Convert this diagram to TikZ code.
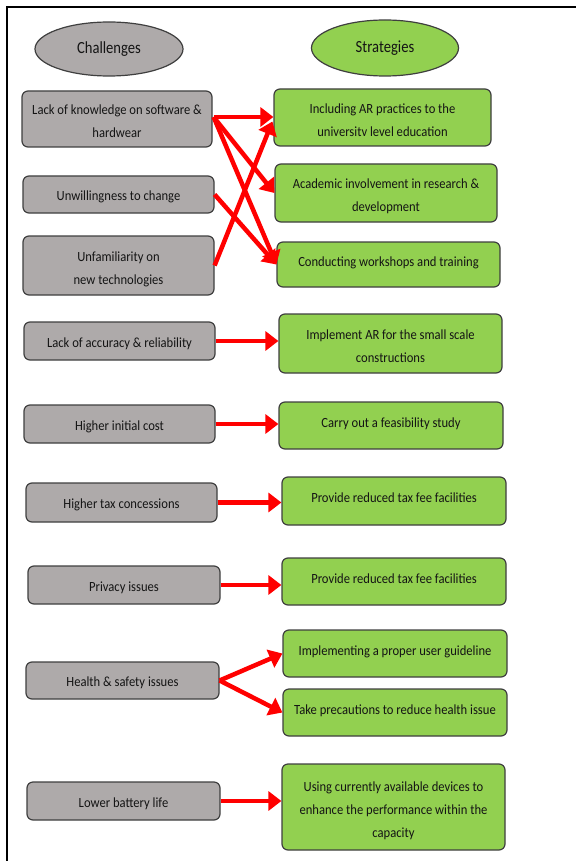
\documentclass[tikz,border=0pt]{standalone}
\usepackage{fontspec}
\setmainfont{Carlito}
\newfontfamily\boxfont[FakeStretch=0.9]{Carlito}
\newfontfamily\headfont[FakeStretch=0.86]{Carlito}
\usetikzlibrary{arrows.meta,shapes.geometric,calc}
\definecolor{cgray}{HTML}{AEAAAA}
\definecolor{cgreen}{HTML}{92D050}
\definecolor{cedge}{HTML}{3F3F3F}
\definecolor{ctext}{HTML}{141414}
\definecolor{cred}{HTML}{FF0000}
\newcommand{\lowtxt}[1]{\raisebox{-2.5pt}[\height][\depth]{\begin{tabular}{@{}c@{}}#1\end{tabular}}}
\begin{document}
\begin{tikzpicture}[x=1pt,y=-1pt,
  box/.style={draw=cedge, line width=1.2pt, rounded corners=6pt, align=center,
    font=\boxfont\fontsize{14}{23}\selectfont, text=ctext, inner sep=0pt},
  lower/.style={execute at begin node={\rule{0pt}{15pt}}},
  raise/.style={execute at end node={\rule[-6.5pt]{0pt}{1pt}}},
  chal/.style={box, fill=cgray, lower},
  chaltwo/.style={box, fill=cgray},
  strat/.style={box, fill=cgreen},
  stratone/.style={strat, raise},
  head/.style={ellipse, draw=cedge, line width=1.2pt, inner sep=0pt,
    font=\headfont\fontsize{17}{18}\selectfont, text=ctext},
  link/.style={draw=cred, line width=4.5pt, -{Triangle[length=13pt,width=19pt]}}]
\useasboundingbox (0,0) rectangle (576,861);
\fill[white] (0,0) rectangle (576,861);
\draw[line width=2pt, black] (7,861) -- (7,7) -- (576,7);

% headers
\node[head, fill=cgray, minimum width=148pt, minimum height=54pt] (hc) at (109,49) {Challenges};
\node[head, fill=cgreen, minimum width=147pt, minimum height=56pt] (hs) at (385,48) {Strategies};

% challenges
\node[chaltwo, minimum width=190pt, minimum height=56pt] (L1) at (117,119) {\lowtxt{Lack of knowledge on software \&\\hardwear}};
\node[chal, minimum width=191pt, minimum height=37pt] (L2) at (118.5,194.5) {Unwillingness to change};
\node[chaltwo, minimum width=191pt, minimum height=59pt] (L3) at (118.5,265.5) {\lowtxt{Unfamiliarity on\\new technologies}};
\node[chal, minimum width=191pt, minimum height=38pt] (L4) at (119.5,341) {Lack of accuracy \& reliability};
\node[chal, minimum width=191pt, minimum height=38pt] (L5) at (119.5,424) {Higher initial cost};
\node[chal, minimum width=191pt, minimum height=39pt] (L6) at (121.5,502.5) {Higher tax concessions};
\node[chal, minimum width=192pt, minimum height=38pt] (L7) at (124,585) {Privacy issues};
\node[chal, minimum width=193pt, minimum height=37pt] (L8) at (122.5,680.5) {Health \& safety issues};
\node[chal, minimum width=193pt, minimum height=38pt] (L9) at (123.5,801) {Lower battery life};

% strategies
\node[strat, minimum width=217pt, minimum height=57pt] (R1) at (382.5,117.5) {\lowtxt{Including AR practices to the\\universitv level education}};
\node[strat, minimum width=222pt, minimum height=58pt] (R2) at (386,193) {\lowtxt{Academic involvement in research \&\\development}};
\node[stratone, minimum width=223pt, minimum height=45pt] (R3) at (388.5,264.5) {Conducting workshops and training};
\node[strat, minimum width=223pt, minimum height=59pt] (R4) at (390.5,343.5) {\lowtxt{Implement AR for the small scale\\constructions}};
\node[stratone, minimum width=224pt, minimum height=47pt] (R5) at (391,425.5) {Carry out a feasibility study};
\node[stratone, minimum width=224pt, minimum height=48pt] (R6) at (394,501) {Provide reduced tax fee facilities};
\node[stratone, minimum width=224pt, minimum height=47pt] (R7) at (394,581.5) {Provide reduced tax fee facilities};
\node[stratone, minimum width=224pt, minimum height=47pt] (R8a) at (395,653.5) {Implementing a proper user guideline};
\node[stratone, minimum width=224pt, minimum height=47pt] (R8b) at (395,712.5) {Take precautions to reduce health issue};
\node[strat, minimum width=223pt, minimum height=86pt] (R9) at (393.5,807) {\lowtxt{Using currently available devices to\\enhance the performance within the\\capacity}};

% connectors
\coordinate (s1) at ($(L1.east)+(1,-2)$);
\draw[link] (s1) -- (s1 -| R1.west);
\draw[link] (s1) -- (R2.west);
\draw[link] (s1) -- (R3.west);
\draw[link] (L2.east) -- (R3.west);
\draw[link] (L3.east) -- ($(R1.west)+(-1,4)$);
\draw[link] (L4.east) -- (L4.east -| R4.west);
\draw[link] (L5.east) -- (L5.east -| R5.west);
\draw[link] (L6.east) -- (L6.east -| R6.west);
\draw[link] (L7.east) -- (L7.east -| R7.west);
\draw[link] (L8.east) -- (R8a.west);
\draw[link] (L8.east) -- (R8b.west);
\draw[link] (L9.east) -- (L9.east -| R9.west);
\end{tikzpicture}
\end{document}
